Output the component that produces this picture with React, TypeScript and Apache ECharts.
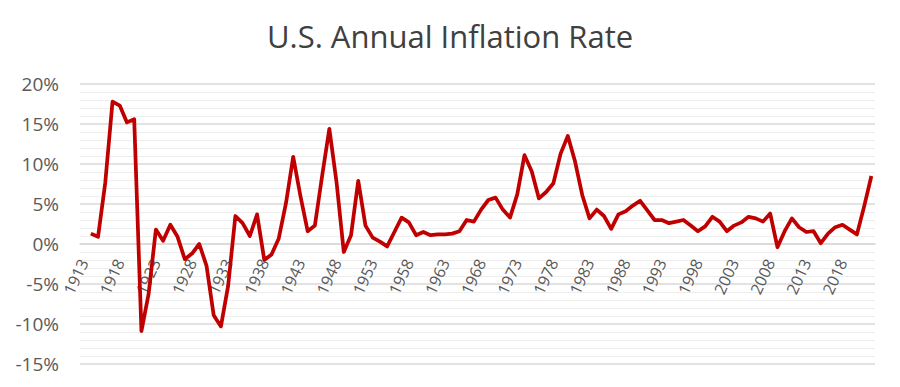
import React, { useEffect, useRef } from "react";
import * as echarts from "echarts";

const years: string[] = [];
for (let y = 1913; y <= 2022; y++) years.push(String(y));

// Annual inflation rate (%), 1913 has no value
const inflation: (number | null)[] = [
  null, 1.3, 0.9, 7.7, 17.8, 17.3, 15.2, 15.6, -10.9, -6.2,
  1.8, 0.4, 2.4, 0.9, -1.9, -1.2, 0.0, -2.7, -8.9, -10.3,
  -5.2, 3.5, 2.6, 1.0, 3.7, -2.0, -1.3, 0.7, 5.1, 10.9,
  6.0, 1.6, 2.3, 8.5, 14.4, 7.7, -1.0, 1.1, 7.9, 2.3,
  0.8, 0.3, -0.3, 1.5, 3.3, 2.7, 1.1, 1.5, 1.1, 1.2,
  1.2, 1.3, 1.6, 3.0, 2.8, 4.3, 5.5, 5.8, 4.3, 3.3,
  6.2, 11.1, 9.1, 5.7, 6.5, 7.6, 11.3, 13.5, 10.3, 6.1,
  3.2, 4.3, 3.5, 1.9, 3.7, 4.1, 4.8, 5.4, 4.2, 3.0,
  3.0, 2.6, 2.8, 3.0, 2.3, 1.6, 2.2, 3.4, 2.8, 1.6,
  2.3, 2.7, 3.4, 3.2, 2.8, 3.8, -0.4, 1.6, 3.2, 2.1,
  1.5, 1.6, 0.1, 1.3, 2.1, 2.4, 1.8, 1.2, 4.7, 8.5,
];

const yMin = -15;
const yMax = 20;
const yStep = 5;

const FONT = "'Open Sans', 'Noto Sans', sans-serif";

const GRID_TOP = 84;
const GRID_BOTTOM = 23;
const GRID_HEIGHT = 387 - GRID_TOP - GRID_BOTTOM;
// place the category axis on the 0% line
const zeroOffset = -(GRID_HEIGHT * (0 - yMin)) / (yMax - yMin);

export default function App() {
  const ref = useRef<HTMLDivElement>(null);
  useEffect(() => {
    if (!ref.current) return;
    const chart = echarts.init(ref.current, undefined, { renderer: "svg" });
    chart.setOption({
      animation: false,
      backgroundColor: "#ffffff",
      title: {
        text: "U.S. Annual Inflation Rate",
        left: "center",
        top: 15,
        textStyle: {
          fontFamily: FONT,
          fontSize: 31,
          fontWeight: "normal",
          color: "#404040",
        },
      },
      grid: {
        left: 80,
        right: 25,
        top: GRID_TOP,
        bottom: GRID_BOTTOM,
        containLabel: false,
        outerBoundsMode: "none",
      },
      xAxis: {
        type: "category",
        data: years,
        boundaryGap: true,
        position: "bottom",
        offset: zeroOffset,
        axisLine: { show: true, onZero: false, lineStyle: { color: "#d9d9d9", width: 1.5 } },
        axisTick: { show: false },
        axisLabel: {
          interval: 4,
          rotate: 65,
          margin: 16,
          fontFamily: FONT,
          fontSize: 16,
          color: "#595959",
        },
        splitLine: { show: false },
      },
      yAxis: {
        type: "value",
        min: yMin,
        max: yMax,
        interval: yStep,
        axisLine: { show: false },
        axisTick: { show: false },
        axisLabel: {
          formatter: "{value}%",
          margin: 21,
          fontFamily: FONT,
          fontSize: 19,
          color: "#595959",
        },
        splitLine: { show: true, lineStyle: { color: "#d9d9d9", width: 1.5 } },
        minorTick: { show: false, splitNumber: 5 },
        minorSplitLine: { show: true, lineStyle: { color: "#eeeeee", width: 1 } },
      },
      series: [
        {
          type: "line",
          data: inflation,
          symbol: "none",
          connectNulls: false,
          lineStyle: { color: "#c00000", width: 3.75, join: "round" },
          itemStyle: { color: "#c00000" },
        },
      ],
    });
    return () => chart.dispose();
  }, []);
  return (
    <div
      ref={ref}
      style={{ position: "fixed", left: 0, top: 0, width: 900, height: 387, background: "#fff" }}
    />
  );
}
